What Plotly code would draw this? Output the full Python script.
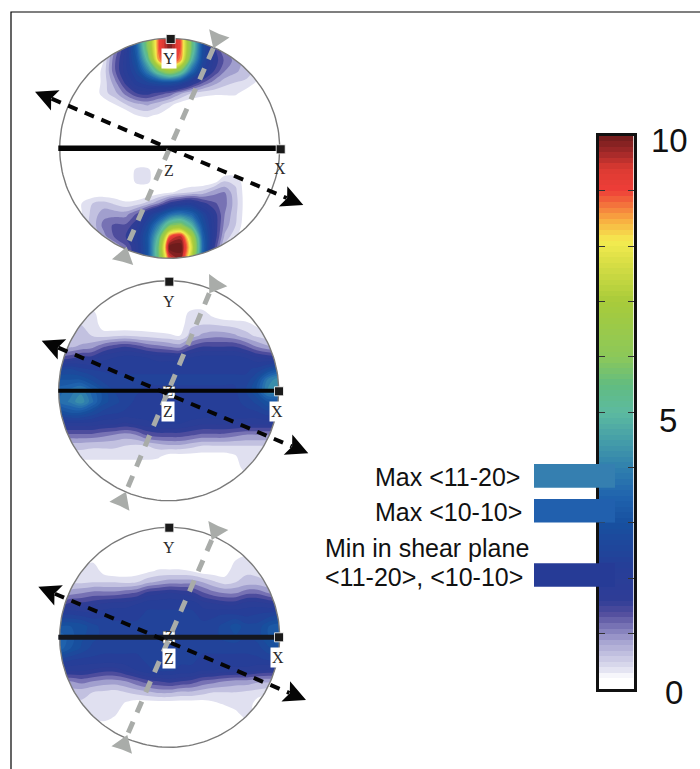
import numpy as np
import plotly.graph_objects as go

# ---------- data: density on a unit-disc grid (rows v=+1..-1, cols u=-1..1) ----------
grid_u = [round(-1 + 0.1 * i, 1) for i in range(21)]
grid_v = [round(1 - 0.1 * i, 1) for i in range(21)]

panel1_z = [
 [0,0,0,0,0,.9,1.7,3.5,6,8.7,9.7,8.7,5.5,2.8,1.5,1,.6,.3,.2,0,0],
 [0,0,0,0,.2,1,1.8,3.3,5.8,8.7,9.7,8.7,5.5,2.8,1.6,1,.6,.3,.2,0,0],
 [0,0,0,0,.25,1.2,1.9,3,5,8.3,9.4,8.3,4.8,2.6,1.7,1.2,.9,.6,.4,.2,0],
 [0,0,0,0,.35,1.2,1.9,2.6,3.9,5.5,6.5,5.5,3.5,2.2,1.5,1,.8,.6,.4,.2,0],
 [0,0,0,0,.35,.9,1.6,2.2,2.5,2.8,2.9,2.6,1.9,1.3,.9,.6,.5,.45,.2,0,0],
 [0,0,0,0,.4,.65,1.1,1.5,1.6,1.4,1.2,.8,.5,.35,.3,.3,.3,.1,0,0,0],
 [0,0,0,0,.05,.25,.5,.7,.8,.6,.35,.1,0,0,0,0,0,0,0,0,0],
 [0,0,0,0,0,0,0,.25,.3,.2,0,0,0,0,0,0,0,0,0,0,0],
 [0]*21,
 [0]*21,
 [0]*21,
 [0]*21,
 [0,0,0,0,0,0,0,.32,.32,0,0,0,0,0,0,0,0,0,0,0,0],
 [0,0,0,0,0,0,0,.32,.32,0,0,0,0,0,.1,.5,.45,0,0,0,0],
 [0,0,0,0,0,0,0,0,0,.1,.2,.35,.5,.6,.9,1,.55,.05,0,0,0],
 [0,0,.25,.5,.6,.45,.3,.35,.6,1,1.6,1.9,2,1.6,1.3,1.1,.6,.05,0,0,0],
 [0,.1,.25,.6,.9,.9,.9,1.3,2,2.7,3.5,3.8,3.4,2.5,1.7,1,.55,.05,0,0,0],
 [0,.2,.3,.6,1.1,1.3,1.3,1.7,2.6,4,5.6,6,4.8,2.9,1.8,.9,.5,0,0,0,0],
 [0,.1,.1,.4,.9,1.3,1.5,1.9,3,5,8.7,9.3,6.8,3.3,1.8,.7,.3,0,0,0,0],
 [0,0,0,.1,.3,.7,1.2,1.8,3,5.6,10,10,7.5,3.5,1.6,.4,0,0,0,0,0],
 [0,0,0,0,.2,.7,1.2,1.8,3,5.5,9,9.5,7,3.2,1.5,.4,0,0,0,0,0],
]

panel2_z = [
 [0]*21,
 [0]*21,
 [0]*21,
 [0,0,.4,.4,0,0,0,0,0,0,0,.05,.35,.4,.15,0,0,0,0,0,0],
 [.5,.5,.5,.5,.1,0,0,0,0,0,0,.1,.45,.5,.5,.45,.4,.35,.2,0,0],
 [.6,.6,.55,.5,.4,.45,.5,.45,.4,.35,.3,.25,.6,.8,.9,.9,.8,.6,.45,.35,.3],
 [.6,.7,.8,.9,1.2,1.4,1.5,1.4,1.2,1.1,1,.9,1.3,1.5,1.5,1.5,1.5,1.3,1,.8,.7],
 [1.3,1.4,1.6,1.6,1.9,2,2.1,2.1,2,1.9,1.9,1.9,2,2.1,2.1,2.1,2.1,2,1.8,1.7,1.6],
 [2.4,2.5,2.3,2.2,2.2,2.2,2.2,2.2,2.2,2.2,2.2,2.2,2.2,2.2,2.2,2.2,2.2,2.2,2.3,2.6,3],
 [3,3,3,2.7,2.4,2.3,2.3,2.3,2.3,2.3,2.3,2.3,2.3,2.3,2.3,2.3,2.3,2.3,2.8,3.8,4.2],
 [3.4,3.6,3.9,3.4,2.9,2.5,2.3,2.3,2.2,2.2,2.2,2.2,2.2,2.2,2.2,2.2,2.2,2.5,3,4,4.1],
 [3.5,3.8,4.2,3.6,2.9,2.6,2.4,2.2,2.2,2.2,2.2,2.2,2.2,2.2,2.2,2.2,2.2,2.3,2.6,3,3],
 [2.8,3,3,2.7,2.4,2.3,2.2,2.2,2.2,2.2,2.2,2.2,2.2,2.2,2.2,2.2,2.2,2.2,2.2,2.4,2.4],
 [1.9,1.9,1.9,1.9,1.8,1.8,1.7,1.8,1.9,2,2,2,1.9,1.8,1.8,1.8,1.8,1.8,1.8,1.8,1.8],
 [1.2,1.2,1.2,1.2,1.1,1,.9,1,1.3,1.4,1.4,1.4,1.3,1.2,1.2,1.2,1.1,1,1,1,1],
 [.6,.6,.6,.55,.55,.55,.5,.45,.5,.6,.7,.7,.6,.5,.5,.5,.5,.5,.5,.5,.5],
 [.35,.35,.35,.35,.35,.35,.35,.35,.35,.3,.1,.1,.1,.1,.1,.1,.2,.45,.35,0,0],
 [0,0,0,0,0,0,0,0,0,0,0,0,0,0,0,0,.05,.4,.1,0,0],
 [0,0,0,0,0,0,0,0,0,0,0,0,0,0,0,0,0,.05,0,0,0],
 [0]*21,
 [0]*21,
]

panel3_z = [
 [0]*21,
 [0]*21,
 [0]*21,
 [0,0,0,.2,0,0,0,0,0,0,0,0,0,0,0,0,.25,.4,0,0,0],
 [0,.3,.4,.45,.15,.05,.05,.1,.2,.3,.3,.3,.25,.1,.1,.1,.45,.45,.4,.2,0],
 [.4,.45,.45,.5,.5,.5,.45,.5,.7,.8,.9,.9,.9,.75,.55,.4,.5,.6,.6,.5,.4],
 [.7,.9,1,1.1,1.1,1.1,1.2,1.3,1.6,1.7,1.8,1.7,1.6,1.3,1.1,1,1,1.2,1.2,1,.9],
 [1.4,1.6,1.6,1.7,1.8,1.9,1.9,2,2.2,2.2,2.2,2.2,2.2,1.9,1.8,1.7,1.7,1.9,1.9,1.8,1.7],
 [2.3,2.3,2.2,2.1,2.2,2.2,2.2,2.2,2.3,2.3,2.3,2.3,2.3,2.2,2.2,2.3,2.3,2.2,2.3,2.4,2.5],
 [3,3,2.9,2.6,2.4,2.3,2.3,2.3,2.3,2.3,2.3,2.3,2.3,2.3,2.4,2.6,2.9,2.6,2.6,3,3.2],
 [3.5,3.1,2.8,2.6,2.4,2.3,2.3,2.3,2.3,2.3,2.3,2.3,2.3,2.3,2.4,2.6,2.7,2.5,2.6,3,3.4],
 [3.4,3,2.7,2.4,2.3,2.3,2.3,2.3,2.3,2.3,2.3,2.3,2.3,2.3,2.3,2.3,2.3,2.3,2.4,2.7,2.9],
 [2.5,2.3,2.2,2.2,2.2,2.2,2.2,2.2,2.3,2.3,2.3,2.3,2.3,2.2,2.2,2.2,2.2,2.2,2.2,2.3,2.3],
 [1.8,1.8,1.8,1.7,1.6,1.6,1.8,2,2.2,2.3,2.3,2.2,2.2,2,2,1.9,1.9,1.9,1.8,1.7,1.7],
 [1,1,1.1,1,.9,.9,1,1.2,1.4,1.5,1.6,1.5,1.4,1.2,1.1,1,.9,.9,.8,.8,.8],
 [.6,.6,.6,.5,.45,.4,.5,.6,.7,.8,.8,.7,.7,.6,.5,.5,.5,.45,.4,.3,.3],
 [.4,.4,.45,.45,.45,.4,.22,.1,.1,.1,.1,.1,.1,.1,.2,.3,.4,.45,.1,0,0],
 [0,0,0,.4,.5,.3,0,0,0,0,0,0,0,0,0,0,.15,.4,0,0,0],
 [0,0,0,0,.1,0,0,0,0,0,0,0,0,0,0,0,0,.05,0,0,0],
 [0]*21,
 [0]*21,
]

bar_levels = [round(0.05 + 0.1 * i, 3) for i in range(100)]
bar_ticks = list(range(11))
bar_labels = ["10", "5", "0"]
swatch_values = [3.85, 3.22, 2.06]
swatch_colors = ["#357fb0", "#2160ae", "#263b96"]
note_texts = ["Max <11-20>", "Max <10-10>", "Min in shear plane", "<11-20>, <10-10>"]

colorscale_stops = [
 (0, "#ffffff"), (.2, "#ffffff"), (.375, "#e0e0f0"), (.6, "#c6c5e2"), (.85, "#a8a6d2"),
 (1.1, "#7f7ab9"), (1.35, "#55509f"), (1.6, "#2f3d96"), (2.2, "#263e98"), (3.0, "#17509f"),
 (3.5, "#2064ae"), (4, "#3080ae"), (4.5, "#459ea8"), (5, "#5cbaa0"), (5.5, "#62bc80"),
 (6, "#8cc85a"), (7, "#a8cb3a"), (7.7, "#d8de45"), (8.1, "#f5ec50"), (8.5, "#f8a840"),
 (9, "#ee3e38"), (9.4, "#dc3a32"), (9.7, "#a02828"), (10, "#6e1c1c"),
]
colorscale = [[v / 10, c] for v, c in colorscale_stops]
# filled contours paint each band from below its own level, so the stops are moved down for them
contour_scale = [[0, "#ffffff"]] + [[(v - .25) / 10, c] for v, c in colorscale_stops[2:]] + [[1, "#6e1c1c"]]

# ---------- page geometry (pixels) ----------
W, H = 700, 769
panels = [
 dict(z=panel1_z, c=(169.7, 148.3), R=110, line=(58.3, 285, 148.3), lw=5.5, lc="#050505",
      black=((35, 91.7), (303.3, 205)), gray=((213.3, 48.3), (218.3, 36), (126.7, 246.7), (122.7, 261.7)),
      ysq=(170.7, 39), xsq=(280.7, 149.3), ylab=(169, 58), zlab=(169.3, 170), xlab=(280, 168.3),
      boxed=False, inner=None),
 dict(z=panel2_z, c=(168.7, 390.7), R=110, line=(58.3, 283, 390.7), lw=4, lc="#050505",
      black=((41.7, 340.7), (308.3, 453.3)), gray=((209.3, 293.3), (216, 283.3), (126, 491.7), (120, 505)),
      ysq=(169.3, 281.7), xsq=(279, 391.3), ylab=(169, 301), zlab=(168.3, 411.7), xlab=(277.3, 411.7),
      boxed=True, inner=(169, 392.3)),
 dict(z=panel3_z, c=(169.7, 637.3), R=110, line=(58.3, 283.3, 637.3), lw=5, lc="#14171f",
      black=((38.3, 586.7), (306, 700)), gray=((211.7, 540), (217.3, 527.7), (127.3, 735), (121.7, 750)),
      ysq=(169.3, 527.7), xsq=(279, 637.3), ylab=(169.3, 547.3), zlab=(169, 658.3), xlab=(278.3, 657.3),
      boxed=True, inner=(169, 637.3)),
]

def ring(cx, cy, R, pad=4):
    t = np.linspace(0, -2 * np.pi, 181)
    xs = [cx + R + pad, cx + R + pad, cx - R - pad, cx - R - pad, cx + R + pad, cx + R + pad]
    ys = [cy, cy + R + pad, cy + R + pad, cy - R - pad, cy - R - pad, cy]
    return xs + list(cx + R * np.cos(t)) + [cx + R + pad], ys + list(cy + R * np.sin(t)) + [cy]

def head(tip, toward, length, half, notch):
    d = np.array(toward, float) - np.array(tip, float)
    d /= np.linalg.norm(d)
    n = np.array([-d[1], d[0]])
    tip = np.array(tip, float)
    pts = [tip, tip + d * length + n * half, tip + d * length * notch, tip + d * length - n * half, tip]
    return [p[0] for p in pts], [p[1] for p in pts]

fig = go.Figure()
SERIF = "Liberation Serif"
SANS = "Liberation Sans"
annotations = []

def label(text, pos, boxed):
    annotations.append(dict(x=pos[0], y=pos[1], xref="x", yref="y", text=text, showarrow=False,
                            font=dict(family=SERIF, size=16, color="#2a2a2a"),
                            bgcolor="#ffffff" if boxed else None, borderpad=1))

for p in panels:
    cx, cy = p["c"]
    R = p["R"]
    fig.add_trace(go.Contour(
        x=[cx + R * u for u in grid_u], y=[cy - R * v for v in grid_v], z=p["z"],
        colorscale=contour_scale, zmin=0, zmax=10, showscale=False,
        contours=dict(start=.25, end=10, size=.25, coloring="fill", showlines=False),
        line=dict(width=0, smoothing=1.0), hoverinfo="skip"))

for i, p in enumerate(panels):
    cx, cy = p["c"]
    R = p["R"]
    rx, ry = ring(cx, cy, R)
    fig.add_trace(go.Scatter(x=rx, y=ry, mode="lines", fill="toself", fillcolor="#ffffff",
                             line=dict(width=0, color="#ffffff"), hoverinfo="skip"))
    t = np.linspace(0, 2 * np.pi, 181)
    fig.add_trace(go.Scatter(x=cx + R * np.cos(t), y=cy + R * np.sin(t), mode="lines",
                             line=dict(color="#7a7a7a", width=1.4), hoverinfo="skip"))
    if p["inner"]:
        fig.add_trace(go.Scatter(x=[p["inner"][0]], y=[p["inner"][1]], mode="markers+text", text=["Z"],
                                 textposition="middle center", textfont=dict(family=SERIF, size=14, color="#2a2a2a"),
                                 marker=dict(symbol="square", size=12, color="#ffffff",
                                             line=dict(color="#555555", width=0.6)), hoverinfo="skip"))
    x0, x1, yl = p["line"]
    fig.add_trace(go.Scatter(x=[x0, x1], y=[yl, yl], mode="lines",
                             line=dict(color=p["lc"], width=p["lw"]), hoverinfo="skip"))
    # gray dashed trace and inward heads
    gt1, gb1, gt2, gb2 = p["gray"]
    fig.add_trace(go.Scatter(x=[gt1[0], gt2[0]], y=[gt1[1], gt2[1]], mode="lines",
                             line=dict(color="#a9aca9", width=5, dash="12px,10px"), hoverinfo="skip"))
    for tip, base in ((gt1, gb1), (gt2, gb2)):
        hx, hy = head(tip, base, 16, 11, .97)
        fig.add_trace(go.Scatter(x=hx, y=hy, mode="lines", fill="toself", fillcolor="#a9aca9",
                                 line=dict(width=0, color="#a9aca9"), hoverinfo="skip"))
    # black dashed trace and outward heads
    a, b = p["black"]
    d = np.array(b) - np.array(a)
    d = d / np.linalg.norm(d)
    s = np.array(a) + d * 18
    e = np.array(b) - d * 18
    fig.add_trace(go.Scatter(x=[s[0], e[0]], y=[s[1], e[1]], mode="lines",
                             line=dict(color="#050505", width=4, dash="10px,8px"), hoverinfo="skip"))
    for tip, other in ((a, b), (b, a)):
        hx, hy = head(tip, other, 22, 11, .8)
        fig.add_trace(go.Scatter(x=hx, y=hy, mode="lines", fill="toself", fillcolor="#050505",
                                 line=dict(width=0, color="#050505"), hoverinfo="skip"))
    # axis end markers
    fig.add_trace(go.Scatter(x=[p["ysq"][0], p["xsq"][0]], y=[p["ysq"][1], p["xsq"][1]], mode="markers",
                             marker=dict(symbol="square", size=9, color="#1a1a1a",
                                         line=dict(color="#ffffff", width=0.8)), hoverinfo="skip"))
    label("Y", p["ylab"], i == 0)
    label("Z", p["zlab"], p["boxed"])
    label("X", p["xlab"], p["boxed"])

# page frame
fig.add_trace(go.Scatter(x=[11, 11, 700], y=[769, 12, 12], mode="lines",
                         line=dict(color="#000000", width=1.2), hoverinfo="skip"))

# colour bar as its own scaled axes
BAR_TOP, BAR_BOTTOM = 135.5, 689
fig.add_trace(go.Heatmap(x=[0.5], y=bar_levels, z=[[v] for v in bar_levels], xaxis="x2", yaxis="y2",
                         colorscale=colorscale, zmin=0, zmax=10, showscale=False, zsmooth=False, hoverinfo="skip"))

# notes next to the bar
for txt, x, y in zip(note_texts, [373, 373, 323, 323], [477, 512, 548, 577]):
    annotations.append(dict(x=x, y=y, xref="x", yref="y", text=txt, showarrow=False, xanchor="left",
                            font=dict(family=SANS, size=25, color="#111111")))
for txt, x, y in zip(bar_labels, [669, 667.5, 673.5], [140, 420, 692]):
    annotations.append(dict(x=x, y=y, xref="x", yref="y", text=txt, showarrow=False,
                            font=dict(family=SANS, size=33, color="#111111")))

shapes = []
for v, c in zip(swatch_values, swatch_colors):
    shapes.append(dict(type="rect", xref="x", yref="y2", x0=534, x1=615, y0=v - .214, y1=v + .214,
                       fillcolor=c, line=dict(width=0), layer="above"))

fig.update_layout(
    width=W, height=H, margin=dict(l=0, r=0, t=0, b=0), showlegend=False,
    paper_bgcolor="#ffffff", plot_bgcolor="rgba(0,0,0,0)",
    xaxis=dict(domain=[0, 1], range=[0, W], visible=False, fixedrange=True),
    yaxis=dict(domain=[0, 1], range=[H, 0], visible=False, fixedrange=True),
    xaxis2=dict(domain=[598.5 / W, 633.5 / W], range=[0, 1], showticklabels=False, ticks="",
                showgrid=False, zeroline=False, showline=True, linecolor="#111111", linewidth=3,
                mirror=True, anchor="y2"),
    yaxis2=dict(domain=[1 - BAR_BOTTOM / H, 1 - BAR_TOP / H], range=[0, 10], tickvals=bar_ticks,
                ticktext=[""] * 11, ticks="inside", ticklen=6, tickwidth=1.2, tickcolor="#333333",
                side="left", showgrid=False, zeroline=False, showline=True, linecolor="#111111",
                linewidth=3, mirror="ticks", anchor="x2"),
    annotations=annotations, shapes=shapes,
)

fig.write_html("out.html", config={"displayModeBar": False}, post_script="document.body.style.margin='0';")
